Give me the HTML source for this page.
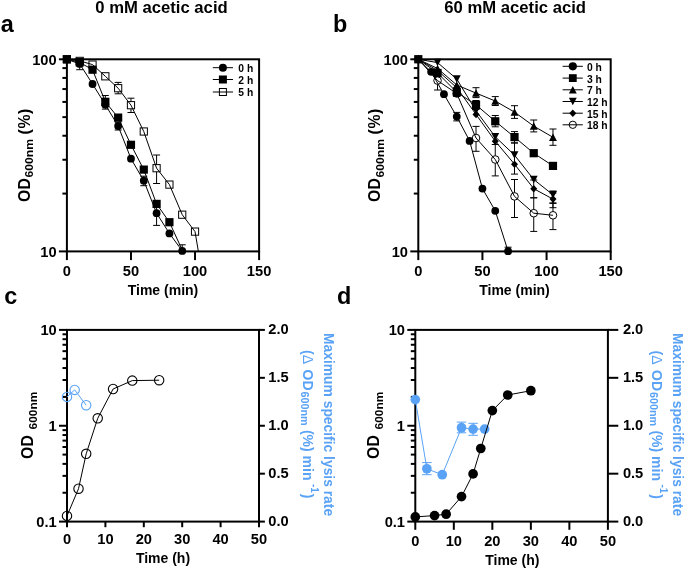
<!DOCTYPE html>
<html><head><meta charset="utf-8"><title>Figure</title>
<style>
html,body{margin:0;padding:0;background:#fff;}
svg{display:block;}
text{font-family:"Liberation Sans",Arial,sans-serif;font-weight:bold;}
</style></head>
<body>
<svg width="685" height="569" viewBox="0 0 685 569">
<rect x="0" y="0" width="685" height="569" fill="#fff"/>
<rect x="66.90" y="59.30" width="192.20" height="192.10" fill="none" stroke="#000" stroke-width="2.0"/>
<line x1="66.90" y1="251.40" x2="66.90" y2="260.10" stroke="#000" stroke-width="2.0" />
<text x="66.90" y="275.60" font-size="14.67" text-anchor="middle" fill="#000" >0</text>
<line x1="130.97" y1="251.40" x2="130.97" y2="260.10" stroke="#000" stroke-width="2.0" />
<text x="130.97" y="275.60" font-size="14.67" text-anchor="middle" fill="#000" >50</text>
<line x1="195.03" y1="251.40" x2="195.03" y2="260.10" stroke="#000" stroke-width="2.0" />
<text x="195.03" y="275.60" font-size="14.67" text-anchor="middle" fill="#000" >100</text>
<line x1="259.10" y1="251.40" x2="259.10" y2="260.10" stroke="#000" stroke-width="2.0" />
<text x="259.10" y="275.60" font-size="14.67" text-anchor="middle" fill="#000" >150</text>
<line x1="58.90" y1="59.30" x2="66.90" y2="59.30" stroke="#000" stroke-width="2.0" />
<text x="56.60" y="64.60" font-size="14.67" text-anchor="end" fill="#000" >100</text>
<line x1="62.40" y1="193.57" x2="66.90" y2="193.57" stroke="#000" stroke-width="2.0" />
<line x1="62.40" y1="159.75" x2="66.90" y2="159.75" stroke="#000" stroke-width="2.0" />
<line x1="62.40" y1="135.74" x2="66.90" y2="135.74" stroke="#000" stroke-width="2.0" />
<line x1="62.40" y1="117.13" x2="66.90" y2="117.13" stroke="#000" stroke-width="2.0" />
<line x1="62.40" y1="101.92" x2="66.90" y2="101.92" stroke="#000" stroke-width="2.0" />
<line x1="62.40" y1="89.06" x2="66.90" y2="89.06" stroke="#000" stroke-width="2.0" />
<line x1="62.40" y1="77.92" x2="66.90" y2="77.92" stroke="#000" stroke-width="2.0" />
<line x1="62.40" y1="68.09" x2="66.90" y2="68.09" stroke="#000" stroke-width="2.0" />
<line x1="58.90" y1="251.40" x2="66.90" y2="251.40" stroke="#000" stroke-width="2.0" />
<text x="56.60" y="256.70" font-size="14.67" text-anchor="end" fill="#000" >10</text>
<rect x="418.30" y="59.30" width="192.40" height="192.10" fill="none" stroke="#000" stroke-width="2.0"/>
<line x1="418.30" y1="251.40" x2="418.30" y2="260.10" stroke="#000" stroke-width="2.0" />
<text x="418.30" y="275.60" font-size="14.67" text-anchor="middle" fill="#000" >0</text>
<line x1="482.43" y1="251.40" x2="482.43" y2="260.10" stroke="#000" stroke-width="2.0" />
<text x="482.43" y="275.60" font-size="14.67" text-anchor="middle" fill="#000" >50</text>
<line x1="546.57" y1="251.40" x2="546.57" y2="260.10" stroke="#000" stroke-width="2.0" />
<text x="546.57" y="275.60" font-size="14.67" text-anchor="middle" fill="#000" >100</text>
<line x1="610.70" y1="251.40" x2="610.70" y2="260.10" stroke="#000" stroke-width="2.0" />
<text x="610.70" y="275.60" font-size="14.67" text-anchor="middle" fill="#000" >150</text>
<line x1="410.30" y1="59.30" x2="418.30" y2="59.30" stroke="#000" stroke-width="2.0" />
<text x="408.00" y="64.60" font-size="14.67" text-anchor="end" fill="#000" >100</text>
<line x1="413.80" y1="193.57" x2="418.30" y2="193.57" stroke="#000" stroke-width="2.0" />
<line x1="413.80" y1="159.75" x2="418.30" y2="159.75" stroke="#000" stroke-width="2.0" />
<line x1="413.80" y1="135.74" x2="418.30" y2="135.74" stroke="#000" stroke-width="2.0" />
<line x1="413.80" y1="117.13" x2="418.30" y2="117.13" stroke="#000" stroke-width="2.0" />
<line x1="413.80" y1="101.92" x2="418.30" y2="101.92" stroke="#000" stroke-width="2.0" />
<line x1="413.80" y1="89.06" x2="418.30" y2="89.06" stroke="#000" stroke-width="2.0" />
<line x1="413.80" y1="77.92" x2="418.30" y2="77.92" stroke="#000" stroke-width="2.0" />
<line x1="413.80" y1="68.09" x2="418.30" y2="68.09" stroke="#000" stroke-width="2.0" />
<line x1="410.30" y1="251.40" x2="418.30" y2="251.40" stroke="#000" stroke-width="2.0" />
<text x="408.00" y="256.70" font-size="14.67" text-anchor="end" fill="#000" >10</text>
<rect x="67.00" y="329.90" width="192.00" height="191.70" fill="none" stroke="#000" stroke-width="2.0"/>
<line x1="67.00" y1="521.60" x2="67.00" y2="527.20" stroke="#000" stroke-width="2.0" />
<text x="67.00" y="543.60" font-size="14.67" text-anchor="middle" fill="#000" >0</text>
<line x1="105.40" y1="521.60" x2="105.40" y2="527.20" stroke="#000" stroke-width="2.0" />
<text x="105.40" y="543.60" font-size="14.67" text-anchor="middle" fill="#000" >10</text>
<line x1="143.80" y1="521.60" x2="143.80" y2="527.20" stroke="#000" stroke-width="2.0" />
<text x="143.80" y="543.60" font-size="14.67" text-anchor="middle" fill="#000" >20</text>
<line x1="182.20" y1="521.60" x2="182.20" y2="527.20" stroke="#000" stroke-width="2.0" />
<text x="182.20" y="543.60" font-size="14.67" text-anchor="middle" fill="#000" >30</text>
<line x1="220.60" y1="521.60" x2="220.60" y2="527.20" stroke="#000" stroke-width="2.0" />
<text x="220.60" y="543.60" font-size="14.67" text-anchor="middle" fill="#000" >40</text>
<line x1="259.00" y1="521.60" x2="259.00" y2="527.20" stroke="#000" stroke-width="2.0" />
<text x="259.00" y="543.60" font-size="14.67" text-anchor="middle" fill="#000" >50</text>
<line x1="59.00" y1="329.90" x2="67.00" y2="329.90" stroke="#000" stroke-width="2.0" />
<text x="56.70" y="335.20" font-size="14.67" text-anchor="end" fill="#000" >10</text>
<line x1="62.50" y1="396.90" x2="67.00" y2="396.90" stroke="#000" stroke-width="2.0" />
<line x1="62.50" y1="380.02" x2="67.00" y2="380.02" stroke="#000" stroke-width="2.0" />
<line x1="62.50" y1="368.04" x2="67.00" y2="368.04" stroke="#000" stroke-width="2.0" />
<line x1="62.50" y1="358.75" x2="67.00" y2="358.75" stroke="#000" stroke-width="2.0" />
<line x1="62.50" y1="351.16" x2="67.00" y2="351.16" stroke="#000" stroke-width="2.0" />
<line x1="62.50" y1="344.75" x2="67.00" y2="344.75" stroke="#000" stroke-width="2.0" />
<line x1="62.50" y1="339.19" x2="67.00" y2="339.19" stroke="#000" stroke-width="2.0" />
<line x1="62.50" y1="334.29" x2="67.00" y2="334.29" stroke="#000" stroke-width="2.0" />
<line x1="59.00" y1="425.75" x2="67.00" y2="425.75" stroke="#000" stroke-width="2.0" />
<text x="56.70" y="431.05" font-size="14.67" text-anchor="end" fill="#000" >1</text>
<line x1="62.50" y1="492.75" x2="67.00" y2="492.75" stroke="#000" stroke-width="2.0" />
<line x1="62.50" y1="475.87" x2="67.00" y2="475.87" stroke="#000" stroke-width="2.0" />
<line x1="62.50" y1="463.89" x2="67.00" y2="463.89" stroke="#000" stroke-width="2.0" />
<line x1="62.50" y1="454.60" x2="67.00" y2="454.60" stroke="#000" stroke-width="2.0" />
<line x1="62.50" y1="447.01" x2="67.00" y2="447.01" stroke="#000" stroke-width="2.0" />
<line x1="62.50" y1="440.60" x2="67.00" y2="440.60" stroke="#000" stroke-width="2.0" />
<line x1="62.50" y1="435.04" x2="67.00" y2="435.04" stroke="#000" stroke-width="2.0" />
<line x1="62.50" y1="430.14" x2="67.00" y2="430.14" stroke="#000" stroke-width="2.0" />
<line x1="59.00" y1="521.60" x2="67.00" y2="521.60" stroke="#000" stroke-width="2.0" />
<text x="56.70" y="526.90" font-size="14.67" text-anchor="end" fill="#000" >0.1</text>
<rect x="415.30" y="329.90" width="192.60" height="191.70" fill="none" stroke="#000" stroke-width="2.0"/>
<line x1="415.30" y1="521.60" x2="415.30" y2="529.80" stroke="#000" stroke-width="2.0" />
<text x="415.30" y="546.00" font-size="14.67" text-anchor="middle" fill="#000" >0</text>
<line x1="453.82" y1="521.60" x2="453.82" y2="529.80" stroke="#000" stroke-width="2.0" />
<text x="453.82" y="546.00" font-size="14.67" text-anchor="middle" fill="#000" >10</text>
<line x1="492.34" y1="521.60" x2="492.34" y2="529.80" stroke="#000" stroke-width="2.0" />
<text x="492.34" y="546.00" font-size="14.67" text-anchor="middle" fill="#000" >20</text>
<line x1="530.86" y1="521.60" x2="530.86" y2="529.80" stroke="#000" stroke-width="2.0" />
<text x="530.86" y="546.00" font-size="14.67" text-anchor="middle" fill="#000" >30</text>
<line x1="569.38" y1="521.60" x2="569.38" y2="529.80" stroke="#000" stroke-width="2.0" />
<text x="569.38" y="546.00" font-size="14.67" text-anchor="middle" fill="#000" >40</text>
<line x1="607.90" y1="521.60" x2="607.90" y2="529.80" stroke="#000" stroke-width="2.0" />
<text x="607.90" y="546.00" font-size="14.67" text-anchor="middle" fill="#000" >50</text>
<line x1="407.30" y1="329.90" x2="415.30" y2="329.90" stroke="#000" stroke-width="2.0" />
<text x="405.00" y="335.20" font-size="14.67" text-anchor="end" fill="#000" >10</text>
<line x1="410.80" y1="396.90" x2="415.30" y2="396.90" stroke="#000" stroke-width="2.0" />
<line x1="410.80" y1="380.02" x2="415.30" y2="380.02" stroke="#000" stroke-width="2.0" />
<line x1="410.80" y1="368.04" x2="415.30" y2="368.04" stroke="#000" stroke-width="2.0" />
<line x1="410.80" y1="358.75" x2="415.30" y2="358.75" stroke="#000" stroke-width="2.0" />
<line x1="410.80" y1="351.16" x2="415.30" y2="351.16" stroke="#000" stroke-width="2.0" />
<line x1="410.80" y1="344.75" x2="415.30" y2="344.75" stroke="#000" stroke-width="2.0" />
<line x1="410.80" y1="339.19" x2="415.30" y2="339.19" stroke="#000" stroke-width="2.0" />
<line x1="410.80" y1="334.29" x2="415.30" y2="334.29" stroke="#000" stroke-width="2.0" />
<line x1="407.30" y1="425.75" x2="415.30" y2="425.75" stroke="#000" stroke-width="2.0" />
<text x="405.00" y="431.05" font-size="14.67" text-anchor="end" fill="#000" >1</text>
<line x1="410.80" y1="492.75" x2="415.30" y2="492.75" stroke="#000" stroke-width="2.0" />
<line x1="410.80" y1="475.87" x2="415.30" y2="475.87" stroke="#000" stroke-width="2.0" />
<line x1="410.80" y1="463.89" x2="415.30" y2="463.89" stroke="#000" stroke-width="2.0" />
<line x1="410.80" y1="454.60" x2="415.30" y2="454.60" stroke="#000" stroke-width="2.0" />
<line x1="410.80" y1="447.01" x2="415.30" y2="447.01" stroke="#000" stroke-width="2.0" />
<line x1="410.80" y1="440.60" x2="415.30" y2="440.60" stroke="#000" stroke-width="2.0" />
<line x1="410.80" y1="435.04" x2="415.30" y2="435.04" stroke="#000" stroke-width="2.0" />
<line x1="410.80" y1="430.14" x2="415.30" y2="430.14" stroke="#000" stroke-width="2.0" />
<line x1="407.30" y1="521.60" x2="415.30" y2="521.60" stroke="#000" stroke-width="2.0" />
<text x="405.00" y="526.90" font-size="14.67" text-anchor="end" fill="#000" >0.1</text>
<line x1="259.00" y1="329.90" x2="264.90" y2="329.90" stroke="#000" stroke-width="2.0" />
<text x="268.30" y="333.90" font-size="14.67" text-anchor="start" fill="#000" >2.0</text>
<line x1="259.00" y1="377.82" x2="264.90" y2="377.82" stroke="#000" stroke-width="2.0" />
<text x="268.30" y="381.82" font-size="14.67" text-anchor="start" fill="#000" >1.5</text>
<line x1="259.00" y1="425.75" x2="264.90" y2="425.75" stroke="#000" stroke-width="2.0" />
<text x="268.30" y="429.75" font-size="14.67" text-anchor="start" fill="#000" >1.0</text>
<line x1="259.00" y1="473.68" x2="264.90" y2="473.68" stroke="#000" stroke-width="2.0" />
<text x="268.30" y="477.68" font-size="14.67" text-anchor="start" fill="#000" >0.5</text>
<line x1="259.00" y1="521.60" x2="264.90" y2="521.60" stroke="#000" stroke-width="2.0" />
<text x="268.30" y="525.60" font-size="14.67" text-anchor="start" fill="#000" >0.0</text>
<line x1="607.90" y1="329.90" x2="618.30" y2="329.90" stroke="#000" stroke-width="2.0" />
<text x="622.90" y="333.90" font-size="14.67" text-anchor="start" fill="#000" >2.0</text>
<line x1="607.90" y1="377.82" x2="618.30" y2="377.82" stroke="#000" stroke-width="2.0" />
<text x="622.90" y="381.82" font-size="14.67" text-anchor="start" fill="#000" >1.5</text>
<line x1="607.90" y1="425.75" x2="618.30" y2="425.75" stroke="#000" stroke-width="2.0" />
<text x="622.90" y="429.75" font-size="14.67" text-anchor="start" fill="#000" >1.0</text>
<line x1="607.90" y1="473.68" x2="618.30" y2="473.68" stroke="#000" stroke-width="2.0" />
<text x="622.90" y="477.68" font-size="14.67" text-anchor="start" fill="#000" >0.5</text>
<line x1="607.90" y1="521.60" x2="618.30" y2="521.60" stroke="#000" stroke-width="2.0" />
<text x="622.90" y="525.60" font-size="14.67" text-anchor="start" fill="#000" >0.0</text>
<text x="161.50" y="13.30" font-size="16.67" text-anchor="middle" fill="#000" >0 mM acetic acid</text>
<text x="515.20" y="13.30" font-size="16.67" text-anchor="middle" fill="#000" >60 mM acetic acid</text>
<text x="0.70" y="31.70" font-size="23.4" text-anchor="start" fill="#000" >a</text>
<text x="333.00" y="31.60" font-size="23.4" text-anchor="start" fill="#000" >b</text>
<text x="4.30" y="303.50" font-size="23.4" text-anchor="start" fill="#000" >c</text>
<text x="337.00" y="303.50" font-size="23.4" text-anchor="start" fill="#000" >d</text>
<text x="163.00" y="294.70" font-size="14" text-anchor="middle" fill="#000" >Time (min)</text>
<text x="514.50" y="294.70" font-size="14" text-anchor="middle" fill="#000" >Time (min)</text>
<text x="163.00" y="562.70" font-size="14" text-anchor="middle" fill="#000" >Time (h)</text>
<text x="512.30" y="565.00" font-size="14" text-anchor="middle" fill="#000" >Time (h)</text>
<text transform="translate(29.50,201.90) rotate(-90)" font-size="15.8" fill="#000">OD</text>
<text transform="translate(33.40,177.60) rotate(-90)" font-size="11" fill="#000" textLength="38.6" lengthAdjust="spacingAndGlyphs">600nm</text>
<text transform="translate(29.50,134.40) rotate(-90)" font-size="15.8" fill="#000" letter-spacing="0.6"> (%)</text>
<text transform="translate(380.10,201.90) rotate(-90)" font-size="15.8" fill="#000">OD</text>
<text transform="translate(384.00,177.60) rotate(-90)" font-size="11" fill="#000" textLength="38.6" lengthAdjust="spacingAndGlyphs">600nm</text>
<text transform="translate(380.10,134.40) rotate(-90)" font-size="15.8" fill="#000" letter-spacing="0.6"> (%)</text>
<text transform="translate(32.70,458.90) rotate(-90)" font-size="15.8" fill="#000">OD</text>
<text transform="translate(36.90,429.40) rotate(-90)" font-size="11" fill="#000" textLength="37.6" lengthAdjust="spacingAndGlyphs">600nm</text>
<text transform="translate(378.90,458.90) rotate(-90)" font-size="15.8" fill="#000">OD</text>
<text transform="translate(383.10,429.40) rotate(-90)" font-size="11" fill="#000" textLength="37.6" lengthAdjust="spacingAndGlyphs">600nm</text>
<text transform="translate(323.90,333.00) rotate(90)" font-size="13.85" fill="#5aa2f5">Maximum specific lysis rate</text>
<text transform="translate(302.90,350.00) rotate(90)" font-size="14" fill="#5aa2f5">(<tspan font-weight="normal">Δ</tspan><tspan dx="1.6"> OD</tspan></text>
<text transform="translate(301.30,391.40) rotate(90)" font-size="10.2" fill="#5aa2f5" textLength="34.2" lengthAdjust="spacingAndGlyphs">600nm</text>
<text transform="translate(302.90,429.90) rotate(90)" font-size="14" fill="#5aa2f5"> (%) min</text>
<text transform="translate(311.40,484.00) rotate(90)" font-size="10" fill="#5aa2f5">-1</text>
<text transform="translate(302.90,493.80) rotate(90)" font-size="14" fill="#5aa2f5">)</text>
<text transform="translate(672.80,333.00) rotate(90)" font-size="13.85" fill="#5aa2f5">Maximum specific lysis rate</text>
<text transform="translate(651.80,350.50) rotate(90)" font-size="14" fill="#5aa2f5">(<tspan font-weight="normal">Δ</tspan><tspan dx="1.6"> OD</tspan></text>
<text transform="translate(650.20,391.90) rotate(90)" font-size="10.2" fill="#5aa2f5" textLength="34.2" lengthAdjust="spacingAndGlyphs">600nm</text>
<text transform="translate(651.80,430.40) rotate(90)" font-size="14" fill="#5aa2f5"> (%) min</text>
<text transform="translate(660.30,484.50) rotate(90)" font-size="10" fill="#5aa2f5">-1</text>
<text transform="translate(651.80,494.30) rotate(90)" font-size="14" fill="#5aa2f5">)</text>
<clipPath id="ca"><rect x="60.900000000000006" y="53.3" width="198.20000000000002" height="198.3"/></clipPath>
<g clip-path="url(#ca)">
<line x1="114.65" y1="82.40" x2="121.65" y2="82.40" stroke="#000" stroke-width="1.0" />
<line x1="114.65" y1="93.80" x2="121.65" y2="93.80" stroke="#000" stroke-width="1.0" />
<line x1="118.15" y1="82.40" x2="118.15" y2="84.60" stroke="#000" stroke-width="1.0" />
<line x1="118.15" y1="91.80" x2="118.15" y2="93.80" stroke="#000" stroke-width="1.0" />
<line x1="127.47" y1="98.20" x2="134.47" y2="98.20" stroke="#000" stroke-width="1.0" />
<line x1="127.47" y1="112.50" x2="134.47" y2="112.50" stroke="#000" stroke-width="1.0" />
<line x1="130.97" y1="98.20" x2="130.97" y2="101.60" stroke="#000" stroke-width="1.0" />
<line x1="130.97" y1="108.80" x2="130.97" y2="112.50" stroke="#000" stroke-width="1.0" />
<line x1="153.09" y1="155.00" x2="160.09" y2="155.00" stroke="#000" stroke-width="1.0" />
<line x1="153.09" y1="183.50" x2="160.09" y2="183.50" stroke="#000" stroke-width="1.0" />
<line x1="156.59" y1="155.00" x2="156.59" y2="164.60" stroke="#000" stroke-width="1.0" />
<line x1="156.59" y1="171.80" x2="156.59" y2="183.50" stroke="#000" stroke-width="1.0" />
<polyline fill="none" stroke="#000" stroke-width="1.0" points="66.90,59.30 79.71,60.90 92.53,64.60 105.34,76.30 118.15,88.20 130.97,105.20 143.78,131.50 156.59,168.20 169.41,184.60 182.22,214.70 195.03,231.60 198.36,251.40"/>
<line x1="105.34" y1="95.50" x2="105.34" y2="106.00" stroke="#000" stroke-width="1.0" />
<line x1="101.84" y1="95.50" x2="108.84" y2="95.50" stroke="#000" stroke-width="1.0" />
<line x1="101.84" y1="106.00" x2="108.84" y2="106.00" stroke="#000" stroke-width="1.0" />
<polyline fill="none" stroke="#000" stroke-width="1.0" points="66.90,59.30 79.71,62.40 92.53,69.70 105.34,101.80 118.15,117.60 130.97,144.80 143.78,169.60 156.59,203.90 169.41,222.20 182.22,250.00"/>
<line x1="79.71" y1="58.50" x2="79.71" y2="69.70" stroke="#000" stroke-width="1.0" />
<line x1="76.21" y1="58.50" x2="83.21" y2="58.50" stroke="#000" stroke-width="1.0" />
<line x1="76.21" y1="69.70" x2="83.21" y2="69.70" stroke="#000" stroke-width="1.0" />
<line x1="105.34" y1="100.50" x2="105.34" y2="109.10" stroke="#000" stroke-width="1.0" />
<line x1="101.84" y1="100.50" x2="108.84" y2="100.50" stroke="#000" stroke-width="1.0" />
<line x1="101.84" y1="109.10" x2="108.84" y2="109.10" stroke="#000" stroke-width="1.0" />
<line x1="118.15" y1="122.00" x2="118.15" y2="130.00" stroke="#000" stroke-width="1.0" />
<line x1="114.65" y1="122.00" x2="121.65" y2="122.00" stroke="#000" stroke-width="1.0" />
<line x1="114.65" y1="130.00" x2="121.65" y2="130.00" stroke="#000" stroke-width="1.0" />
<line x1="143.78" y1="176.20" x2="143.78" y2="185.70" stroke="#000" stroke-width="1.0" />
<line x1="140.28" y1="176.20" x2="147.28" y2="176.20" stroke="#000" stroke-width="1.0" />
<line x1="140.28" y1="185.70" x2="147.28" y2="185.70" stroke="#000" stroke-width="1.0" />
<line x1="156.59" y1="201.50" x2="156.59" y2="225.40" stroke="#000" stroke-width="1.0" />
<line x1="153.09" y1="201.50" x2="160.09" y2="201.50" stroke="#000" stroke-width="1.0" />
<line x1="153.09" y1="225.40" x2="160.09" y2="225.40" stroke="#000" stroke-width="1.0" />
<line x1="182.22" y1="244.80" x2="182.22" y2="256.00" stroke="#000" stroke-width="1.0" />
<line x1="178.72" y1="244.80" x2="185.72" y2="244.80" stroke="#000" stroke-width="1.0" />
<line x1="178.72" y1="256.00" x2="185.72" y2="256.00" stroke="#000" stroke-width="1.0" />
<polyline fill="none" stroke="#000" stroke-width="1.0" points="66.90,59.30 79.71,63.90 92.53,84.00 105.34,104.70 118.15,126.00 130.97,158.70 143.78,180.70 156.59,213.20 169.41,233.40 182.22,250.90"/>
</g>
<rect x="63.30" y="55.70" width="7.2" height="7.2" fill="none" stroke="#000" stroke-width="1.0"/>
<rect x="76.11" y="57.30" width="7.2" height="7.2" fill="none" stroke="#000" stroke-width="1.0"/>
<rect x="88.93" y="61.00" width="7.2" height="7.2" fill="none" stroke="#000" stroke-width="1.0"/>
<rect x="101.74" y="72.70" width="7.2" height="7.2" fill="none" stroke="#000" stroke-width="1.0"/>
<rect x="114.55" y="84.60" width="7.2" height="7.2" fill="none" stroke="#000" stroke-width="1.0"/>
<rect x="127.37" y="101.60" width="7.2" height="7.2" fill="none" stroke="#000" stroke-width="1.0"/>
<rect x="140.18" y="127.90" width="7.2" height="7.2" fill="none" stroke="#000" stroke-width="1.0"/>
<rect x="152.99" y="164.60" width="7.2" height="7.2" fill="none" stroke="#000" stroke-width="1.0"/>
<rect x="165.81" y="181.00" width="7.2" height="7.2" fill="none" stroke="#000" stroke-width="1.0"/>
<rect x="178.62" y="211.10" width="7.2" height="7.2" fill="none" stroke="#000" stroke-width="1.0"/>
<rect x="191.43" y="228.00" width="7.2" height="7.2" fill="none" stroke="#000" stroke-width="1.0"/>
<rect x="62.80" y="55.20" width="8.2" height="8.2" fill="#000" stroke="none" stroke-width="1.0"/>
<rect x="75.61" y="58.30" width="8.2" height="8.2" fill="#000" stroke="none" stroke-width="1.0"/>
<rect x="88.43" y="65.60" width="8.2" height="8.2" fill="#000" stroke="none" stroke-width="1.0"/>
<rect x="101.24" y="97.70" width="8.2" height="8.2" fill="#000" stroke="none" stroke-width="1.0"/>
<rect x="114.05" y="113.50" width="8.2" height="8.2" fill="#000" stroke="none" stroke-width="1.0"/>
<rect x="126.87" y="140.70" width="8.2" height="8.2" fill="#000" stroke="none" stroke-width="1.0"/>
<rect x="139.68" y="165.50" width="8.2" height="8.2" fill="#000" stroke="none" stroke-width="1.0"/>
<rect x="152.49" y="199.80" width="8.2" height="8.2" fill="#000" stroke="none" stroke-width="1.0"/>
<rect x="165.31" y="218.10" width="8.2" height="8.2" fill="#000" stroke="none" stroke-width="1.0"/>
<circle cx="66.90" cy="59.30" r="3.9" fill="#000" stroke="none" stroke-width="1.0"/>
<circle cx="79.71" cy="63.90" r="3.9" fill="#000" stroke="none" stroke-width="1.0"/>
<circle cx="92.53" cy="84.00" r="3.9" fill="#000" stroke="none" stroke-width="1.0"/>
<circle cx="105.34" cy="104.70" r="3.9" fill="#000" stroke="none" stroke-width="1.0"/>
<circle cx="118.15" cy="126.00" r="3.9" fill="#000" stroke="none" stroke-width="1.0"/>
<circle cx="130.97" cy="158.70" r="3.9" fill="#000" stroke="none" stroke-width="1.0"/>
<circle cx="143.78" cy="180.70" r="3.9" fill="#000" stroke="none" stroke-width="1.0"/>
<circle cx="156.59" cy="213.20" r="3.9" fill="#000" stroke="none" stroke-width="1.0"/>
<circle cx="169.41" cy="233.40" r="3.9" fill="#000" stroke="none" stroke-width="1.0"/>
<circle cx="182.22" cy="250.90" r="3.9" fill="#000" stroke="none" stroke-width="1.0"/>
<line x1="212.80" y1="67.70" x2="233.00" y2="67.70" stroke="#000" stroke-width="1.0" />
<circle cx="222.90" cy="67.70" r="4.0" fill="#000" stroke="none" stroke-width="1.0"/>
<text x="238.30" y="71.70" font-size="10.3" text-anchor="start" fill="#000" >0 h</text>
<line x1="212.80" y1="79.50" x2="233.00" y2="79.50" stroke="#000" stroke-width="1.0" />
<rect x="218.90" y="75.50" width="8.0" height="8.0" fill="#000" stroke="none" stroke-width="1.0"/>
<text x="238.30" y="83.50" font-size="10.3" text-anchor="start" fill="#000" >2 h</text>
<line x1="212.80" y1="92.00" x2="233.00" y2="92.00" stroke="#000" stroke-width="1.0" />
<rect x="219.40" y="88.50" width="7.0" height="7.0" fill="none" stroke="#000" stroke-width="1.0"/>
<text x="238.30" y="96.00" font-size="10.3" text-anchor="start" fill="#000" >5 h</text>
<clipPath id="cb"><rect x="412.3" y="53.3" width="198.40000000000003" height="198.3"/></clipPath>
<g clip-path="url(#cb)">
<line x1="456.78" y1="112.40" x2="456.78" y2="120.90" stroke="#000" stroke-width="1.0" />
<line x1="453.28" y1="112.40" x2="460.28" y2="112.40" stroke="#000" stroke-width="1.0" />
<line x1="453.28" y1="120.90" x2="460.28" y2="120.90" stroke="#000" stroke-width="1.0" />
<line x1="508.09" y1="247.20" x2="508.09" y2="256.00" stroke="#000" stroke-width="1.0" />
<line x1="504.59" y1="247.20" x2="511.59" y2="247.20" stroke="#000" stroke-width="1.0" />
<line x1="504.59" y1="256.00" x2="511.59" y2="256.00" stroke="#000" stroke-width="1.0" />
<polyline fill="none" stroke="#000" stroke-width="1.0" points="418.30,59.30 431.13,71.80 443.95,94.20 456.78,116.60 469.61,140.90 482.43,188.60 495.26,210.80 508.09,251.20"/>
</g>
<circle cx="418.30" cy="59.30" r="3.9" fill="#000" stroke="none" stroke-width="1.0"/>
<circle cx="431.13" cy="71.80" r="3.9" fill="#000" stroke="none" stroke-width="1.0"/>
<circle cx="443.95" cy="94.20" r="3.9" fill="#000" stroke="none" stroke-width="1.0"/>
<circle cx="456.78" cy="116.60" r="3.9" fill="#000" stroke="none" stroke-width="1.0"/>
<circle cx="469.61" cy="140.90" r="3.9" fill="#000" stroke="none" stroke-width="1.0"/>
<circle cx="482.43" cy="188.60" r="3.9" fill="#000" stroke="none" stroke-width="1.0"/>
<circle cx="495.26" cy="210.80" r="3.9" fill="#000" stroke="none" stroke-width="1.0"/>
<circle cx="508.09" cy="251.20" r="3.9" fill="#000" stroke="none" stroke-width="1.0"/>
<line x1="456.78" y1="88.00" x2="456.78" y2="96.50" stroke="#000" stroke-width="1.0" />
<line x1="453.28" y1="88.00" x2="460.28" y2="88.00" stroke="#000" stroke-width="1.0" />
<line x1="453.28" y1="96.50" x2="460.28" y2="96.50" stroke="#000" stroke-width="1.0" />
<line x1="476.02" y1="100.50" x2="476.02" y2="109.50" stroke="#000" stroke-width="1.0" />
<line x1="472.52" y1="100.50" x2="479.52" y2="100.50" stroke="#000" stroke-width="1.0" />
<line x1="472.52" y1="109.50" x2="479.52" y2="109.50" stroke="#000" stroke-width="1.0" />
<line x1="495.26" y1="115.50" x2="495.26" y2="126.80" stroke="#000" stroke-width="1.0" />
<line x1="491.76" y1="115.50" x2="498.76" y2="115.50" stroke="#000" stroke-width="1.0" />
<line x1="491.76" y1="126.80" x2="498.76" y2="126.80" stroke="#000" stroke-width="1.0" />
<line x1="514.50" y1="131.60" x2="514.50" y2="142.90" stroke="#000" stroke-width="1.0" />
<line x1="511.00" y1="131.60" x2="518.00" y2="131.60" stroke="#000" stroke-width="1.0" />
<line x1="511.00" y1="142.90" x2="518.00" y2="142.90" stroke="#000" stroke-width="1.0" />
<polyline fill="none" stroke="#000" stroke-width="1.0" points="418.30,59.30 437.54,73.00 456.78,92.20 476.02,104.90 495.26,121.30 514.50,137.10 533.74,153.20 552.98,165.90"/>
<rect x="414.20" y="55.20" width="8.2" height="8.2" fill="#000" stroke="none" stroke-width="1.0"/>
<rect x="433.44" y="68.90" width="8.2" height="8.2" fill="#000" stroke="none" stroke-width="1.0"/>
<rect x="452.68" y="88.10" width="8.2" height="8.2" fill="#000" stroke="none" stroke-width="1.0"/>
<rect x="471.92" y="100.80" width="8.2" height="8.2" fill="#000" stroke="none" stroke-width="1.0"/>
<rect x="491.16" y="117.20" width="8.2" height="8.2" fill="#000" stroke="none" stroke-width="1.0"/>
<rect x="510.40" y="133.00" width="8.2" height="8.2" fill="#000" stroke="none" stroke-width="1.0"/>
<rect x="529.64" y="149.10" width="8.2" height="8.2" fill="#000" stroke="none" stroke-width="1.0"/>
<rect x="548.88" y="161.80" width="8.2" height="8.2" fill="#000" stroke="none" stroke-width="1.0"/>
<line x1="476.02" y1="87.70" x2="476.02" y2="97.60" stroke="#000" stroke-width="1.0" />
<line x1="472.52" y1="87.70" x2="479.52" y2="87.70" stroke="#000" stroke-width="1.0" />
<line x1="472.52" y1="97.60" x2="479.52" y2="97.60" stroke="#000" stroke-width="1.0" />
<line x1="495.26" y1="96.60" x2="495.26" y2="105.50" stroke="#000" stroke-width="1.0" />
<line x1="491.76" y1="96.60" x2="498.76" y2="96.60" stroke="#000" stroke-width="1.0" />
<line x1="491.76" y1="105.50" x2="498.76" y2="105.50" stroke="#000" stroke-width="1.0" />
<line x1="514.50" y1="105.70" x2="514.50" y2="118.40" stroke="#000" stroke-width="1.0" />
<line x1="511.00" y1="105.70" x2="518.00" y2="105.70" stroke="#000" stroke-width="1.0" />
<line x1="511.00" y1="118.40" x2="518.00" y2="118.40" stroke="#000" stroke-width="1.0" />
<line x1="533.74" y1="120.00" x2="533.74" y2="131.90" stroke="#000" stroke-width="1.0" />
<line x1="530.24" y1="120.00" x2="537.24" y2="120.00" stroke="#000" stroke-width="1.0" />
<line x1="530.24" y1="131.90" x2="537.24" y2="131.90" stroke="#000" stroke-width="1.0" />
<line x1="552.98" y1="129.00" x2="552.98" y2="145.30" stroke="#000" stroke-width="1.0" />
<line x1="549.48" y1="129.00" x2="556.48" y2="129.00" stroke="#000" stroke-width="1.0" />
<line x1="549.48" y1="145.30" x2="556.48" y2="145.30" stroke="#000" stroke-width="1.0" />
<polyline fill="none" stroke="#000" stroke-width="1.0" points="418.30,59.30 437.54,68.50 456.78,85.00 476.02,93.10 495.26,101.00 514.50,112.10 533.74,126.10 552.98,137.30"/>
<polygon points="418.30,55.55 414.35,63.05 422.25,63.05" fill="#000"/>
<polygon points="437.54,64.75 433.59,72.25 441.49,72.25" fill="#000"/>
<polygon points="456.78,81.25 452.83,88.75 460.73,88.75" fill="#000"/>
<polygon points="476.02,89.35 472.07,96.85 479.97,96.85" fill="#000"/>
<polygon points="495.26,97.25 491.31,104.75 499.21,104.75" fill="#000"/>
<polygon points="514.50,108.35 510.55,115.85 518.45,115.85" fill="#000"/>
<polygon points="533.74,122.35 529.79,129.85 537.69,129.85" fill="#000"/>
<polygon points="552.98,133.55 549.03,141.05 556.93,141.05" fill="#000"/>
<line x1="514.50" y1="143.00" x2="514.50" y2="174.10" stroke="#000" stroke-width="1.0" />
<line x1="511.00" y1="143.00" x2="518.00" y2="143.00" stroke="#000" stroke-width="1.0" />
<line x1="511.00" y1="174.10" x2="518.00" y2="174.10" stroke="#000" stroke-width="1.0" />
<line x1="552.98" y1="191.00" x2="552.98" y2="202.90" stroke="#000" stroke-width="1.0" />
<line x1="549.48" y1="191.00" x2="556.48" y2="191.00" stroke="#000" stroke-width="1.0" />
<line x1="549.48" y1="202.90" x2="556.48" y2="202.90" stroke="#000" stroke-width="1.0" />
<polyline fill="none" stroke="#000" stroke-width="1.0" points="418.30,59.30 437.54,62.60 456.78,79.00 476.02,110.80 495.26,136.80 514.50,155.10 533.74,179.50 552.98,194.80"/>
<polygon points="418.30,63.05 414.35,55.55 422.25,55.55" fill="#000"/>
<polygon points="437.54,66.35 433.59,58.85 441.49,58.85" fill="#000"/>
<polygon points="456.78,82.75 452.83,75.25 460.73,75.25" fill="#000"/>
<polygon points="476.02,114.55 472.07,107.05 479.97,107.05" fill="#000"/>
<polygon points="495.26,140.55 491.31,133.05 499.21,133.05" fill="#000"/>
<polygon points="514.50,158.85 510.55,151.35 518.45,151.35" fill="#000"/>
<polygon points="533.74,183.25 529.79,175.75 537.69,175.75" fill="#000"/>
<polygon points="552.98,198.55 549.03,191.05 556.93,191.05" fill="#000"/>
<line x1="533.74" y1="180.00" x2="533.74" y2="197.80" stroke="#000" stroke-width="1.0" />
<line x1="530.24" y1="180.00" x2="537.24" y2="180.00" stroke="#000" stroke-width="1.0" />
<line x1="530.24" y1="197.80" x2="537.24" y2="197.80" stroke="#000" stroke-width="1.0" />
<line x1="552.98" y1="193.00" x2="552.98" y2="207.70" stroke="#000" stroke-width="1.0" />
<line x1="549.48" y1="193.00" x2="556.48" y2="193.00" stroke="#000" stroke-width="1.0" />
<line x1="549.48" y1="207.70" x2="556.48" y2="207.70" stroke="#000" stroke-width="1.0" />
<polyline fill="none" stroke="#000" stroke-width="1.0" points="418.30,59.30 437.54,70.50 456.78,87.70 476.02,114.40 495.26,141.20 514.50,164.20 533.74,188.70 552.98,199.10"/>
<polygon points="418.30,55.50 421.80,59.30 418.30,63.10 414.80,59.30" fill="#000"/>
<polygon points="437.54,66.70 441.04,70.50 437.54,74.30 434.04,70.50" fill="#000"/>
<polygon points="456.78,83.90 460.28,87.70 456.78,91.50 453.28,87.70" fill="#000"/>
<polygon points="476.02,110.60 479.52,114.40 476.02,118.20 472.52,114.40" fill="#000"/>
<polygon points="495.26,137.40 498.76,141.20 495.26,145.00 491.76,141.20" fill="#000"/>
<polygon points="514.50,160.40 518.00,164.20 514.50,168.00 511.00,164.20" fill="#000"/>
<polygon points="533.74,184.90 537.24,188.70 533.74,192.50 530.24,188.70" fill="#000"/>
<polygon points="552.98,195.30 556.48,199.10 552.98,202.90 549.48,199.10" fill="#000"/>
<line x1="434.04" y1="71.20" x2="441.04" y2="71.20" stroke="#000" stroke-width="1.0" />
<line x1="434.04" y1="90.00" x2="441.04" y2="90.00" stroke="#000" stroke-width="1.0" />
<line x1="437.54" y1="71.20" x2="437.54" y2="76.80" stroke="#000" stroke-width="1.0" />
<line x1="437.54" y1="84.40" x2="437.54" y2="90.00" stroke="#000" stroke-width="1.0" />
<line x1="472.52" y1="126.40" x2="479.52" y2="126.40" stroke="#000" stroke-width="1.0" />
<line x1="472.52" y1="151.30" x2="479.52" y2="151.30" stroke="#000" stroke-width="1.0" />
<line x1="476.02" y1="126.40" x2="476.02" y2="134.20" stroke="#000" stroke-width="1.0" />
<line x1="476.02" y1="141.80" x2="476.02" y2="151.30" stroke="#000" stroke-width="1.0" />
<line x1="491.76" y1="144.50" x2="498.76" y2="144.50" stroke="#000" stroke-width="1.0" />
<line x1="491.76" y1="175.90" x2="498.76" y2="175.90" stroke="#000" stroke-width="1.0" />
<line x1="495.26" y1="144.50" x2="495.26" y2="155.70" stroke="#000" stroke-width="1.0" />
<line x1="495.26" y1="163.30" x2="495.26" y2="175.90" stroke="#000" stroke-width="1.0" />
<line x1="511.00" y1="179.50" x2="518.00" y2="179.50" stroke="#000" stroke-width="1.0" />
<line x1="511.00" y1="217.50" x2="518.00" y2="217.50" stroke="#000" stroke-width="1.0" />
<line x1="514.50" y1="179.50" x2="514.50" y2="192.60" stroke="#000" stroke-width="1.0" />
<line x1="514.50" y1="200.20" x2="514.50" y2="217.50" stroke="#000" stroke-width="1.0" />
<line x1="530.24" y1="197.80" x2="537.24" y2="197.80" stroke="#000" stroke-width="1.0" />
<line x1="530.24" y1="231.40" x2="537.24" y2="231.40" stroke="#000" stroke-width="1.0" />
<line x1="533.74" y1="197.80" x2="533.74" y2="209.40" stroke="#000" stroke-width="1.0" />
<line x1="533.74" y1="217.00" x2="533.74" y2="231.40" stroke="#000" stroke-width="1.0" />
<line x1="549.48" y1="203.40" x2="556.48" y2="203.40" stroke="#000" stroke-width="1.0" />
<line x1="549.48" y1="229.60" x2="556.48" y2="229.60" stroke="#000" stroke-width="1.0" />
<line x1="552.98" y1="203.40" x2="552.98" y2="211.50" stroke="#000" stroke-width="1.0" />
<line x1="552.98" y1="219.10" x2="552.98" y2="229.60" stroke="#000" stroke-width="1.0" />
<polyline fill="none" stroke="#000" stroke-width="1.0" points="418.30,59.30 437.54,80.60 456.78,93.50 476.02,138.00 495.26,159.50 514.50,196.40 533.74,213.20 552.98,215.30"/>
<circle cx="437.54" cy="80.60" r="3.8" fill="none" stroke="#000" stroke-width="1.0"/>
<circle cx="456.78" cy="93.50" r="3.8" fill="none" stroke="#000" stroke-width="1.0"/>
<circle cx="476.02" cy="138.00" r="3.8" fill="none" stroke="#000" stroke-width="1.0"/>
<circle cx="495.26" cy="159.50" r="3.8" fill="none" stroke="#000" stroke-width="1.0"/>
<circle cx="514.50" cy="196.40" r="3.8" fill="none" stroke="#000" stroke-width="1.0"/>
<circle cx="533.74" cy="213.20" r="3.8" fill="none" stroke="#000" stroke-width="1.0"/>
<circle cx="552.98" cy="215.30" r="3.8" fill="none" stroke="#000" stroke-width="1.0"/>
<line x1="562.60" y1="66.30" x2="582.80" y2="66.30" stroke="#000" stroke-width="1.0" />
<circle cx="572.80" cy="66.30" r="4.1" fill="#000" stroke="none" stroke-width="1.0"/>
<text x="587.00" y="70.70" font-size="10.3" text-anchor="start" fill="#000" >0 h</text>
<line x1="562.60" y1="78.10" x2="582.80" y2="78.10" stroke="#000" stroke-width="1.0" />
<rect x="568.90" y="74.20" width="7.8" height="7.8" fill="#000" stroke="none" stroke-width="1.0"/>
<text x="587.00" y="82.50" font-size="10.3" text-anchor="start" fill="#000" >3 h</text>
<line x1="562.60" y1="89.80" x2="582.80" y2="89.80" stroke="#000" stroke-width="1.0" />
<polygon points="572.80,86.05 568.85,93.55 576.75,93.55" fill="#000"/>
<text x="587.00" y="94.20" font-size="10.3" text-anchor="start" fill="#000" >7 h</text>
<line x1="562.60" y1="101.50" x2="582.80" y2="101.50" stroke="#000" stroke-width="1.0" />
<polygon points="572.80,105.25 568.85,97.75 576.75,97.75" fill="#000"/>
<text x="587.00" y="105.90" font-size="10.3" text-anchor="start" fill="#000" >12 h</text>
<line x1="562.60" y1="113.20" x2="582.80" y2="113.20" stroke="#000" stroke-width="1.0" />
<polygon points="572.80,109.40 576.30,113.20 572.80,117.00 569.30,113.20" fill="#000"/>
<text x="587.00" y="117.60" font-size="10.3" text-anchor="start" fill="#000" >15 h</text>
<line x1="562.60" y1="124.80" x2="582.80" y2="124.80" stroke="#000" stroke-width="1.0" />
<circle cx="572.80" cy="124.80" r="3.65" fill="none" stroke="#000" stroke-width="1.0"/>
<text x="587.00" y="129.20" font-size="10.3" text-anchor="start" fill="#000" >18 h</text>
<polyline fill="none" stroke="#5aa2f5" stroke-width="1.0" points="67.00,396.90 74.68,389.90 86.20,405.20"/>
<circle cx="67.00" cy="396.90" r="4.7" fill="none" stroke="#5aa2f5" stroke-width="1.1"/>
<circle cx="74.68" cy="389.90" r="4.7" fill="none" stroke="#5aa2f5" stroke-width="1.1"/>
<circle cx="86.20" cy="405.20" r="4.7" fill="none" stroke="#5aa2f5" stroke-width="1.1"/>
<polyline fill="none" stroke="#000" stroke-width="1.0" points="67.00,515.90 78.52,488.70 86.20,453.80 97.72,418.30 113.08,389.00 132.28,380.60 159.16,380.20"/>
<circle cx="67.00" cy="515.90" r="4.7" fill="none" stroke="#000" stroke-width="1.1"/>
<circle cx="78.52" cy="488.70" r="4.7" fill="none" stroke="#000" stroke-width="1.1"/>
<circle cx="86.20" cy="453.80" r="4.7" fill="none" stroke="#000" stroke-width="1.1"/>
<circle cx="97.72" cy="418.30" r="4.7" fill="none" stroke="#000" stroke-width="1.1"/>
<circle cx="113.08" cy="389.00" r="4.7" fill="none" stroke="#000" stroke-width="1.1"/>
<circle cx="132.28" cy="380.60" r="4.7" fill="none" stroke="#000" stroke-width="1.1"/>
<circle cx="159.16" cy="380.20" r="4.7" fill="none" stroke="#000" stroke-width="1.1"/>
<line x1="426.86" y1="462.60" x2="426.86" y2="474.70" stroke="#5aa2f5" stroke-width="1.0" />
<line x1="422.11" y1="462.60" x2="431.61" y2="462.60" stroke="#5aa2f5" stroke-width="1.0" />
<line x1="422.11" y1="474.70" x2="431.61" y2="474.70" stroke="#5aa2f5" stroke-width="1.0" />
<line x1="461.52" y1="422.10" x2="461.52" y2="432.80" stroke="#5aa2f5" stroke-width="1.0" />
<line x1="456.77" y1="422.10" x2="466.27" y2="422.10" stroke="#5aa2f5" stroke-width="1.0" />
<line x1="456.77" y1="432.80" x2="466.27" y2="432.80" stroke="#5aa2f5" stroke-width="1.0" />
<line x1="473.08" y1="423.30" x2="473.08" y2="435.30" stroke="#5aa2f5" stroke-width="1.0" />
<line x1="468.33" y1="423.30" x2="477.83" y2="423.30" stroke="#5aa2f5" stroke-width="1.0" />
<line x1="468.33" y1="435.30" x2="477.83" y2="435.30" stroke="#5aa2f5" stroke-width="1.0" />
<polyline fill="none" stroke="#5aa2f5" stroke-width="1.0" points="415.30,399.60 426.86,468.80 442.26,474.70 461.52,427.70 473.08,429.10 484.64,429.10"/>
<circle cx="415.30" cy="399.60" r="4.85" fill="#5aa2f5" stroke="none" stroke-width="1.0"/>
<circle cx="426.86" cy="468.80" r="4.85" fill="#5aa2f5" stroke="none" stroke-width="1.0"/>
<circle cx="442.26" cy="474.70" r="4.85" fill="#5aa2f5" stroke="none" stroke-width="1.0"/>
<circle cx="461.52" cy="427.70" r="4.85" fill="#5aa2f5" stroke="none" stroke-width="1.0"/>
<circle cx="473.08" cy="429.10" r="4.85" fill="#5aa2f5" stroke="none" stroke-width="1.0"/>
<circle cx="484.64" cy="429.10" r="4.85" fill="#5aa2f5" stroke="none" stroke-width="1.0"/>
<polyline fill="none" stroke="#000" stroke-width="1.0" points="415.30,516.90 434.56,515.60 446.12,514.20 461.52,496.60 473.08,473.90 480.78,448.50 492.34,410.60 507.75,395.00 530.86,390.70"/>
<circle cx="415.30" cy="516.90" r="4.85" fill="#000" stroke="none" stroke-width="1.0"/>
<circle cx="434.56" cy="515.60" r="4.85" fill="#000" stroke="none" stroke-width="1.0"/>
<circle cx="446.12" cy="514.20" r="4.85" fill="#000" stroke="none" stroke-width="1.0"/>
<circle cx="461.52" cy="496.60" r="4.85" fill="#000" stroke="none" stroke-width="1.0"/>
<circle cx="473.08" cy="473.90" r="4.85" fill="#000" stroke="none" stroke-width="1.0"/>
<circle cx="480.78" cy="448.50" r="4.85" fill="#000" stroke="none" stroke-width="1.0"/>
<circle cx="492.34" cy="410.60" r="4.85" fill="#000" stroke="none" stroke-width="1.0"/>
<circle cx="507.75" cy="395.00" r="4.85" fill="#000" stroke="none" stroke-width="1.0"/>
<circle cx="530.86" cy="390.70" r="4.85" fill="#000" stroke="none" stroke-width="1.0"/>
</svg>
</body></html>
